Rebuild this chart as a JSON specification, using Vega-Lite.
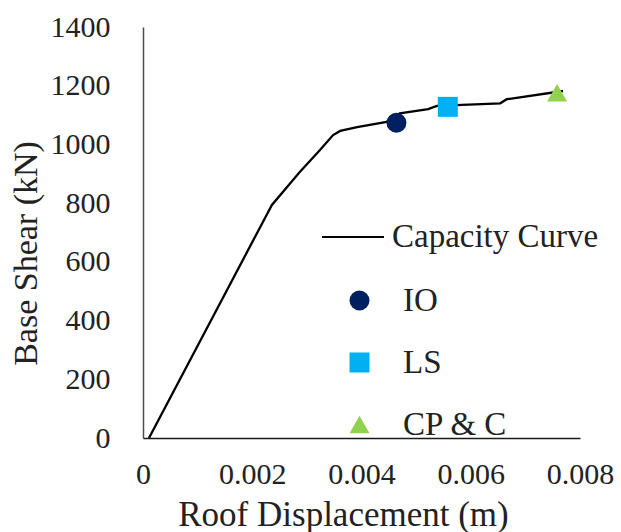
{
  "$schema": "https://vega.github.io/schema/vega-lite/v6.json",
  "width": 437,
  "height": 411,
  "autosize": "none",
  "padding": {"left": 143, "top": 27, "right": 41, "bottom": 94},
  "background": "white",
  "config": {
    "view": {"stroke": null},
    "font": "Liberation Serif, Times New Roman, Times, serif"
  },
  "datasets": {
    "curve": [
      {"disp": 0.00011, "shear": 0, "series": "Capacity Curve"},
      {"disp": 0.00236, "shear": 794, "series": "Capacity Curve"},
      {"disp": 0.00287, "shear": 906, "series": "Capacity Curve"},
      {"disp": 0.00324, "shear": 981, "series": "Capacity Curve"},
      {"disp": 0.00348, "shear": 1032, "series": "Capacity Curve"},
      {"disp": 0.00361, "shear": 1046, "series": "Capacity Curve"},
      {"disp": 0.00392, "shear": 1059, "series": "Capacity Curve"},
      {"disp": 0.00446, "shear": 1077, "series": "Capacity Curve"},
      {"disp": 0.00470, "shear": 1106, "series": "Capacity Curve"},
      {"disp": 0.00522, "shear": 1120, "series": "Capacity Curve"},
      {"disp": 0.00538, "shear": 1131, "series": "Capacity Curve"},
      {"disp": 0.00654, "shear": 1140, "series": "Capacity Curve"},
      {"disp": 0.00666, "shear": 1154, "series": "Capacity Curve"},
      {"disp": 0.00769, "shear": 1182, "series": "Capacity Curve"}
    ],
    "levels": [
      {"disp": 0.00464, "shear": 1074, "level": "IO"},
      {"disp": 0.00558, "shear": 1128, "level": "LS"},
      {"disp": 0.00758, "shear": 1176, "level": "CP & C"}
    ]
  },
  "encoding": {
    "x": {
      "field": "disp",
      "type": "quantitative",
      "scale": {"domain": [0, 0.008], "nice": false},
      "axis": {
        "values": [0, 0.002, 0.004, 0.006, 0.008],
        "format": "~g",
        "grid": false,
        "ticks": false,
        "domainColor": "#1a1a1a",
        "domainWidth": 1.5,
        "labelFont": "Liberation Serif, Times New Roman, Times, serif",
        "labelFontSize": 30,
        "labelColor": "#222222",
        "labelPadding": 21,
        "labelFlush": false,
        "title": "Roof Displacement (m)",
        "titleFont": "Liberation Serif, Times New Roman, Times, serif",
        "titleFontSize": 35,
        "titleFontWeight": "normal",
        "titleColor": "#222222",
        "titleX": 200,
        "titleY": 87,
        "titleBaseline": "alphabetic"
      }
    },
    "y": {
      "field": "shear",
      "type": "quantitative",
      "scale": {"domain": [0, 1400], "nice": false},
      "axis": {
        "values": [0, 200, 400, 600, 800, 1000, 1200, 1400],
        "format": "d",
        "grid": false,
        "ticks": false,
        "domainColor": "#4d4d4d",
        "domainWidth": 1.5,
        "labelFont": "Liberation Serif, Times New Roman, Times, serif",
        "labelFontSize": 30,
        "labelColor": "#222222",
        "labelPadding": 33,
        "labelFlush": false,
        "title": "Base Shear (kN)",
        "titleFont": "Liberation Serif, Times New Roman, Times, serif",
        "titleFontSize": 34,
        "titleFontWeight": "normal",
        "titleColor": "#222222",
        "titleX": -107,
        "titleY": 226,
        "titleAngle": -90,
        "titleBaseline": "alphabetic"
      }
    }
  },
  "layer": [
    {
      "data": {"name": "curve"},
      "mark": {"type": "line", "strokeWidth": 2.3},
      "encoding": {
        "stroke": {
          "field": "series",
          "type": "nominal",
          "scale": {"domain": ["Capacity Curve"], "range": ["#000000"]},
          "legend": {
            "title": null,
            "orient": "none",
            "legendX": 178,
            "legendY": 178,
            "padding": 0,
            "symbolType": "stroke",
            "symbolSize": 3844,
            "symbolStrokeWidth": 2,
            "labelOffset": 7,
            "labelFont": "Liberation Serif, Times New Roman, Times, serif",
            "labelFontSize": 33,
            "labelColor": "#222222",
            "labelLimit": 400
          }
        }
      }
    },
    {
      "data": {"name": "levels"},
      "mark": {"type": "point", "filled": true, "size": 400, "opacity": 1},
      "encoding": {
        "color": {
          "field": "level",
          "type": "nominal",
          "scale": {"domain": ["IO", "LS", "CP & C"], "range": ["#002060", "#00B0F0", "#92D050"]},
          "legend": {
            "title": null,
            "orient": "none",
            "legendX": 200,
            "legendY": 257,
            "padding": 0,
            "symbolSize": 400,
            "symbolOpacity": 1,
            "rowPadding": 28,
            "labelOffset": 27,
            "labelFont": "Liberation Serif, Times New Roman, Times, serif",
            "labelFontSize": 33,
            "labelColor": "#222222",
            "labelLimit": 400
          }
        },
        "shape": {
          "field": "level",
          "type": "nominal",
          "scale": {"domain": ["IO", "LS", "CP & C"], "range": ["circle", "square", "triangle-up"]}
        }
      }
    }
  ]
}
